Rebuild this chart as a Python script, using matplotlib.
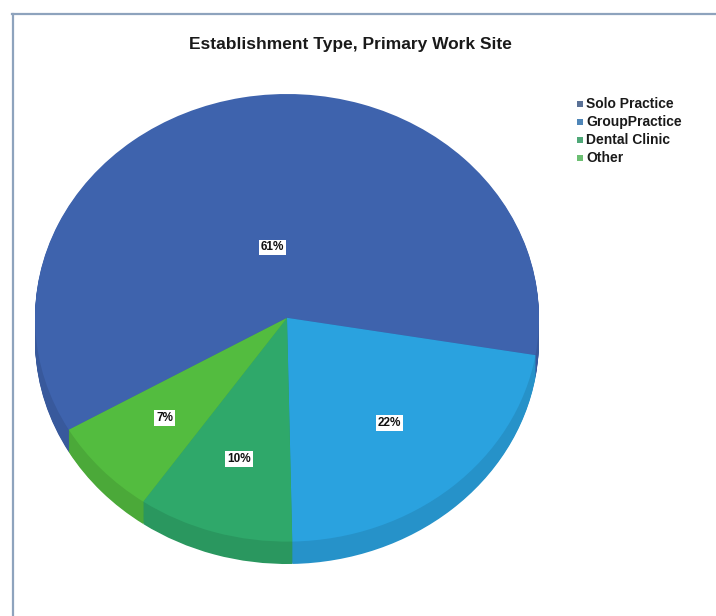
import numpy as np
import matplotlib
matplotlib.use("Agg")
import matplotlib.pyplot as plt
from matplotlib.patches import Rectangle
from matplotlib.colors import to_rgb

plt.rcParams['font.family'] = ['Liberation Sans', 'DejaVu Sans']

# Chart data
categories = ["Solo Practice", "GroupPractice", "Dental Clinic", "Other"]
shares = [61, 22, 10, 7]
title = "Establishment Type, Primary Work Site"

slice_colors = ["#3e63ad", "#2aa2df", "#2fa86a", "#53bc3f"]
legend_colors = ["#5a7196", "#4f86b8", "#4fa878", "#6cbf72"]
label_radius = [0.32, 0.62, 0.66, 0.66]

W, H = 716, 616
fig = plt.figure(figsize=(W / 100, H / 100), dpi=100)
fig.patch.set_facecolor("white")

# Background overlay in pixel coordinates (frame, title, legend)
bg = fig.add_axes([0, 0, 1, 1])
bg.set_xlim(0, W)
bg.set_ylim(H, 0)
bg.axis("off")
bg.plot([12, W], [14, 14], color="#8ea3bd", lw=1.6)
bg.plot([13, 13], [14, H], color="#8ea3bd", lw=1.6)
bg.text(350, 45, title, ha="center", va="center", fontsize=12.5, fontweight="bold",
        color="#1a1a1a")

for i, (name, col) in enumerate(zip(categories, legend_colors)):
    y = 104 + i * 18
    bg.add_patch(Rectangle((577, y - 3), 6, 6, color=col, lw=0))
    bg.text(586, y, name, ha="left", va="center", fontsize=10, fontweight="bold",
            color="#1a1a1a")

# Pie axes: elliptical top face with a shallow extruded rim
left, right, top, bottom = 35, 539, 94, 564
ax = fig.add_axes([left / W, (H - bottom) / H, (right - left) / W, (bottom - top) / H])
depth = 0.1
start = 210
side_colors = [tuple(c * 0.9 for c in to_rgb(c0)) for c0 in slice_colors]
n_layers = 24
for k in range(n_layers, 0, -1):
    ax.pie(shares, colors=side_colors, startangle=start, counterclock=False,
           center=(0, -depth * k / n_layers), radius=1,
           wedgeprops=dict(linewidth=0))
wedges, _ = ax.pie(shares, colors=slice_colors, startangle=start, counterclock=False,
                   center=(0, 0), radius=1, wedgeprops=dict(linewidth=0))
ax.set_aspect("auto")
ax.set_xlim(-1, 1)
ax.set_ylim(-1 - depth, 1)
ax.axis("off")

total = float(sum(shares))
for w, v, r in zip(wedges, shares, label_radius):
    mid = np.deg2rad((w.theta1 + w.theta2) / 2)
    ax.text(r * np.cos(mid), r * np.sin(mid), f"{round(100 * v / total)}%",
            ha="center", va="center", fontsize=8.5, fontweight="bold", color="#111111",
            bbox=dict(boxstyle="square,pad=0.15", facecolor="white", edgecolor="none"))

fig.savefig("out.png", dpi=100)
